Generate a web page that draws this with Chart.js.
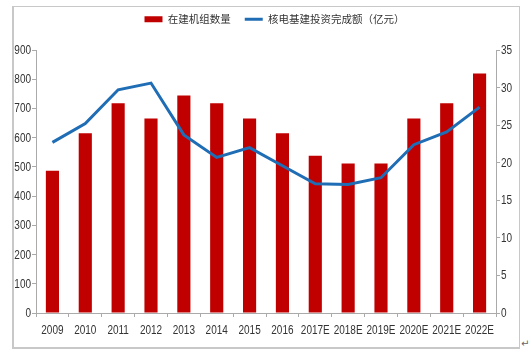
<!DOCTYPE html>
<html><head><meta charset="utf-8">
<script src="https://cdn.jsdelivr.net/npm/chart.js@4"></script>
<style>
html,body{margin:0;padding:0;background:#fff;}
#wrap{position:relative;width:531px;height:354px;overflow:hidden;}
#frame{position:absolute;left:12px;top:6px;width:508px;height:343px;border:2px solid #c8c8c8;box-sizing:border-box;border-right-width:1px;border-top-width:1px;}
#ret{position:absolute;left:521px;top:338px;font:10px "DejaVu Sans";color:#666;}
canvas{position:absolute;left:0;top:0;}
</style></head><body>
<div id="wrap"><div id="frame"></div><span id="ret">↵</span><canvas id="c" width="531" height="354"></canvas></div>
<script>
const categories=['2009','2010','2011','2012','2013','2014','2015','2016','2017E','2018E','2019E','2020E','2021E','2022E'];
const unitsUnderConstruction=[487,615,718,666,744,718,666,615,538,512,512,666,718,820];
const investment=[22.7,25.2,29.7,30.6,23.7,20.7,22.0,19.6,17.2,17.1,18.0,22.4,24.1,27.4];
const leftTicks=[0,100,200,300,400,500,600,700,800,900];
const rightTicks=[0,5,10,15,20,25,30,35];
const fixLegend={id:'fixLegend',beforeInit(chart){const lg=chart.legend;const f=lg.fit;lg.fit=function(){f.call(this);this.height=50;};}};
// narrow tick labels (the reference uses a condensed sans face)
const narrowTicks={id:'narrowTicks',afterDraw(chart){
  const ctx=chart.ctx;const sx=0.8;
  const put=(txt,x,y,align)=>{ctx.save();ctx.translate(x,y);ctx.scale(sx,1);ctx.textAlign=align;ctx.textBaseline='middle';ctx.fillText(txt,0,0);ctx.restore();};
  ctx.save();ctx.font='12.5px "Liberation Sans", Arial, sans-serif';ctx.fillStyle='#333';
  const xs=chart.scales.x;categories.forEach((c,i)=>put(c,xs.getPixelForTick(i),331,'center'));
  const ys=chart.scales.y;leftTicks.forEach(v=>put(String(v),31,ys.getPixelForValue(v)+0.5,'right'));
  const y1=chart.scales.y1;rightTicks.forEach(v=>put(String(v),501,y1.getPixelForValue(v)+0.5,'left'));
  ctx.restore();
}};
new Chart(document.getElementById('c'),{
  data:{labels:categories,datasets:[
    {type:'line',label:'核电基建投资完成额（亿元）',data:investment,yAxisID:'y1',borderColor:'#1f6db5',backgroundColor:'#1f6db5',borderWidth:3,pointRadius:0,pointStyle:'line',tension:0,order:0},
    {type:'bar',label:'在建机组数量',data:unitsUnderConstruction,yAxisID:'y',backgroundColor:'#c00000',pointStyle:'rect',barPercentage:0.4,categoryPercentage:1,order:1}
  ]},
  plugins:[fixLegend,narrowTicks],
  options:{responsive:false,animation:false,
    layout:{padding:{left:18,right:0,top:0,bottom:0}},
    plugins:{legend:{position:'top',reverse:true,labels:{usePointStyle:true,pointStyleWidth:18,boxHeight:6,padding:14,color:'#333',font:{family:'"Noto Sans CJK SC"',size:10.5}}},tooltip:{enabled:false}},
    scales:{
      x:{afterFit:s=>{s.height=41;},grid:{drawOnChartArea:false,tickLength:4,color:'#aaa'},border:{color:'#aaa'},ticks:{display:false}},
      y:{position:'left',min:0,max:900,afterFit:s=>{s.width=18;},afterBuildTicks:a=>{a.ticks=leftTicks.map(v=>({value:v}));},grid:{drawOnChartArea:false,tickLength:4,color:'#aaa'},border:{color:'#aaa'},ticks:{display:false}},
      y1:{position:'right',min:0,max:35,afterFit:s=>{s.width=35;},afterBuildTicks:a=>{a.ticks=rightTicks.map(v=>({value:v}));},grid:{drawOnChartArea:false,tickLength:4,color:'#aaa'},border:{color:'#aaa'},ticks:{display:false}}
    }}
});
</script></body></html>
